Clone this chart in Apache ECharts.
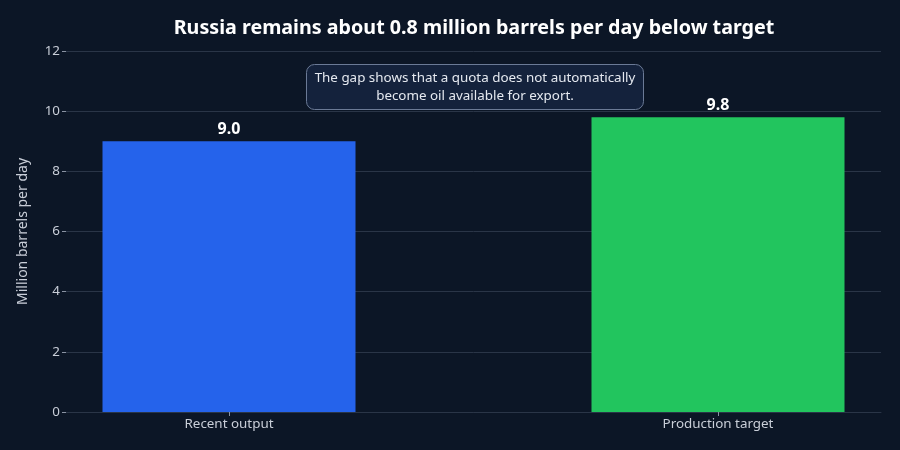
<!DOCTYPE html>
<html><head><meta charset="utf-8">
<script src="https://cdn.jsdelivr.net/npm/echarts@6/dist/echarts.min.js"></script>
<style>html,body{margin:0;padding:0;background:#0c1626;}#c{width:900px;height:450px;}</style>
</head><body><div id="c"></div>
<script>
const categories = ["Recent output", "Production target"];
const values = [9.0, 9.8];
const barColors = ["#2563eb", "#22c55e"];
const yTicks = [0, 2, 4, 6, 8, 10, 12];
const titleText = "Russia remains about 0.8 million barrels per day below target";
const noteText = "The gap shows that a quota does not automatically\nbecome oil available for export.";
const yName = "Million barrels per day";

const chart = echarts.init(document.getElementById('c'));
chart.setOption({
  backgroundColor: '#0c1626',
  textStyle: { fontFamily: 'Noto Sans' },
  title: [
    { text: titleText, left: 469, top: 13, textAlign: 'center',
      textStyle: { color: '#ffffff', fontSize: 19.7, fontWeight: 'bold', fontFamily: 'Noto Sans' } },
    { text: noteText, left: 467, top: 64, textAlign: 'center',
      backgroundColor: '#14223c', borderColor: '#6b7a96', borderWidth: 1, borderRadius: 8,
      padding: [5, 8, 5, 8],
      textStyle: { color: '#e5e9f0', fontSize: 13.4, fontWeight: 'normal', lineHeight: 18, fontFamily: 'Noto Sans', align: 'center' } }
  ],
  grid: { left: 66, right: 19, top: 51, bottom: 38 },
  xAxis: {
    type: 'value', min: -1/3, max: 4/3,
    splitLine: { show: false },
    axisLine: { show: true, onZero: false, lineStyle: { color: '#2a3547' } },
    axisTick: { show: true, customValues: [0, 1], length: 4, lineStyle: { color: '#8a93a3' } },
    axisLabel: { customValues: [0, 1], color: '#c9ced8', fontSize: 13.4, margin: 6,
      formatter: v => categories[Math.round(v)] }
  },
  yAxis: {
    type: 'value', min: 0, max: 12, interval: 2,
    name: yName, nameLocation: 'middle', nameGap: 36,
    nameTextStyle: { color: '#c9ced8', fontSize: 14 },
    axisLine: { show: false, onZero: false },
    axisTick: { show: true, length: 4, lineStyle: { color: '#8a93a3' } },
    axisLabel: { color: '#c9ced8', fontSize: 13.4, margin: 6 },
    splitLine: { lineStyle: { color: '#2a3547', width: 1 } }
  },
  series: [{
    type: 'bar', barWidth: 253,
    data: values.map((v, i) => ({ value: [i, v], itemStyle: { color: barColors[i] } })),
    label: { show: true, position: 'top', distance: 4, color: '#ffffff', fontSize: 16, fontWeight: 'bold',
      formatter: p => p.value[1].toFixed(1) }
  }]
});
</script></body></html>
